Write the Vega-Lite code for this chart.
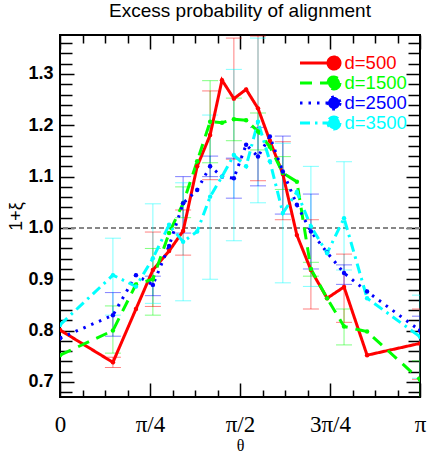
{
  "$schema": "https://vega.github.io/schema/vega-lite/v6.json",
  "autosize": {"type": "none"},
  "width": 360,
  "height": 362,
  "padding": {"left": 60, "top": 35, "right": 16, "bottom": 69},
  "background": "white",
  "title": {"text": "Excess probability of alignment", "font": "Liberation Sans", "fontSize": 19, "fontWeight": "normal", "color": "black", "anchor": "middle", "frame": "group", "baseline": "bottom", "offset": 17, "dy": 23},
  "config": {
    "view": {"stroke": "black", "strokeWidth": 2},
    "axis": {"domain": false, "grid": false, "tickColor": "black", "tickWidth": 1.5, "labelColor": "black", "titleColor": "black"}
  },
  "datasets": {
    "pts": [
      {"series":"d=500","theta":0,"xi":0.801},
      {"series":"d=500","theta":0.147,"xi":0.738,"lo":0.728,"hi":0.748},
      {"series":"d=500","theta":0.211,"xi":0.842},
      {"series":"d=500","theta":0.258,"xi":0.918,"lo":0.847,"hi":0.992},
      {"series":"d=500","theta":0.303,"xi":0.955},
      {"series":"d=500","theta":0.342,"xi":0.994,"lo":0.947,"hi":1.035},
      {"series":"d=500","theta":0.381,"xi":1.12},
      {"series":"d=500","theta":0.417,"xi":1.181,"lo":1.094,"hi":1.267},
      {"series":"d=500","theta":0.45,"xi":1.288},
      {"series":"d=500","theta":0.483,"xi":1.252,"lo":1.134,"hi":1.37},
      {"series":"d=500","theta":0.517,"xi":1.27},
      {"series":"d=500","theta":0.55,"xi":1.233,"lo":1.092,"hi":1.374},
      {"series":"d=500","theta":0.583,"xi":1.17},
      {"series":"d=500","theta":0.619,"xi":1.105,"lo":1.016,"hi":1.168},
      {"series":"d=500","theta":0.658,"xi":0.986},
      {"series":"d=500","theta":0.697,"xi":0.918,"lo":0.842,"hi":1.016},
      {"series":"d=500","theta":0.742,"xi":0.863},
      {"series":"d=500","theta":0.789,"xi":0.885,"lo":0.816,"hi":0.949},
      {"series":"d=500","theta":0.853,"xi":0.752},
      {"series":"d=500","theta":1,"xi":0.775,"lo":0.705,"hi":0.842},

      {"series":"d=1500","theta":0,"xi":0.752},
      {"series":"d=1500","theta":0.147,"xi":0.80,"lo":0.756,"hi":0.848},
      {"series":"d=1500","theta":0.211,"xi":0.89},
      {"series":"d=1500","theta":0.258,"xi":0.90,"lo":0.83,"hi":0.96},
      {"series":"d=1500","theta":0.303,"xi":0.99},
      {"series":"d=1500","theta":0.342,"xi":1.048,"lo":1.02,"hi":1.08},
      {"series":"d=1500","theta":0.381,"xi":1.13},
      {"series":"d=1500","theta":0.417,"xi":1.207,"lo":1.127,"hi":1.287},
      {"series":"d=1500","theta":0.45,"xi":1.205},
      {"series":"d=1500","theta":0.483,"xi":1.212,"lo":1.17,"hi":1.253},
      {"series":"d=1500","theta":0.517,"xi":1.21},
      {"series":"d=1500","theta":0.55,"xi":1.188,"lo":1.152,"hi":1.224},
      {"series":"d=1500","theta":0.583,"xi":1.158},
      {"series":"d=1500","theta":0.619,"xi":1.107,"lo":1.075,"hi":1.139},
      {"series":"d=1500","theta":0.658,"xi":1.09},
      {"series":"d=1500","theta":0.697,"xi":0.92,"lo":0.906,"hi":0.933},
      {"series":"d=1500","theta":0.742,"xi":0.863},
      {"series":"d=1500","theta":0.789,"xi":0.808,"lo":0.772,"hi":0.842},
      {"series":"d=1500","theta":0.853,"xi":0.798},
      {"series":"d=1500","theta":1,"xi":0.704,"lo":0.667,"hi":0.741},

      {"series":"d=2500","theta":0,"xi":0.785},
      {"series":"d=2500","theta":0.147,"xi":0.83,"lo":0.789,"hi":0.874},
      {"series":"d=2500","theta":0.211,"xi":0.908},
      {"series":"d=2500","theta":0.258,"xi":0.889,"lo":0.868,"hi":0.906},
      {"series":"d=2500","theta":0.303,"xi":0.965},
      {"series":"d=2500","theta":0.342,"xi":1.048,"lo":0.99,"hi":1.10},
      {"series":"d=2500","theta":0.381,"xi":1.074},
      {"series":"d=2500","theta":0.417,"xi":1.12,"lo":1.10,"hi":1.14},
      {"series":"d=2500","theta":0.45,"xi":1.10},
      {"series":"d=2500","theta":0.483,"xi":1.097,"lo":1.058,"hi":1.136},
      {"series":"d=2500","theta":0.517,"xi":1.162},
      {"series":"d=2500","theta":0.55,"xi":1.139,"lo":1.082,"hi":1.196},
      {"series":"d=2500","theta":0.583,"xi":1.178},
      {"series":"d=2500","theta":0.619,"xi":1.11,"lo":1.027,"hi":1.179},
      {"series":"d=2500","theta":0.658,"xi":1.045},
      {"series":"d=2500","theta":0.697,"xi":0.993,"lo":0.92,"hi":1.066},
      {"series":"d=2500","theta":0.742,"xi":0.952},
      {"series":"d=2500","theta":0.789,"xi":0.912,"lo":0.89,"hi":0.928},
      {"series":"d=2500","theta":0.853,"xi":0.876},
      {"series":"d=2500","theta":1,"xi":0.80,"lo":0.773,"hi":0.828},

      {"series":"d=3500","theta":0,"xi":0.811},
      {"series":"d=3500","theta":0.147,"xi":0.908,"lo":0.83,"hi":0.98},
      {"series":"d=3500","theta":0.211,"xi":0.886},
      {"series":"d=3500","theta":0.258,"xi":0.941,"lo":0.853,"hi":1.047},
      {"series":"d=3500","theta":0.303,"xi":1.006},
      {"series":"d=3500","theta":0.342,"xi":0.973,"lo":0.858,"hi":1.088},
      {"series":"d=3500","theta":0.381,"xi":0.993},
      {"series":"d=3500","theta":0.417,"xi":1.061,"lo":0.90,"hi":1.22},
      {"series":"d=3500","theta":0.45,"xi":1.10},
      {"series":"d=3500","theta":0.483,"xi":1.142,"lo":0.975,"hi":1.309},
      {"series":"d=3500","theta":0.517,"xi":1.12},
      {"series":"d=3500","theta":0.55,"xi":1.207,"lo":1.049,"hi":1.37},
      {"series":"d=3500","theta":0.583,"xi":1.13},
      {"series":"d=3500","theta":0.619,"xi":1.029,"lo":0.893,"hi":1.165},
      {"series":"d=3500","theta":0.658,"xi":1.07},
      {"series":"d=3500","theta":0.697,"xi":1.003,"lo":0.886,"hi":1.12},
      {"series":"d=3500","theta":0.742,"xi":0.951},
      {"series":"d=3500","theta":0.789,"xi":1.019,"lo":0.918,"hi":1.129},
      {"series":"d=3500","theta":0.853,"xi":0.863},
      {"series":"d=3500","theta":1,"xi":0.788,"lo":0.707,"hi":0.869}
    ]
  },
  "data": {"name": "pts"},
  "resolve": {"axis": {"x": "independent", "y": "independent"}, "legend": {"color": "independent", "strokeDash": "independent"}},
  "layer": [
    {
      "mark": {"type": "rule", "color": "#888888", "strokeDash": [5, 3], "strokeWidth": 1},
      "encoding": {
        "y": {"datum": 1, "type": "quantitative", "scale": {"domain": [0.6705, 1.376], "nice": false, "zero": false}, "axis": null}
      }
    },
    {
      "transform": [{"filter": "isValid(datum.lo)"}],
      "mark": {"type": "rule", "strokeWidth": 1, "opacity": 0.5, "clip": true},
      "encoding": {
        "x": {"field": "theta", "type": "quantitative", "scale": {"domain": [0, 1], "nice": false, "zero": false},
              "axis": {"orient": "bottom", "values": [0, 0.25, 0.5, 0.75, 1], "tickSize": -14, "labelPadding": 30, "labelFont": "Liberation Serif", "labelFontSize": 23, "labelFlush": false, "labelOverlap": false,
                       "labelExpr": "datum.value == 0 ? '0' : datum.value == 0.25 ? 'π/4' : datum.value == 0.5 ? 'π/2' : datum.value == 0.75 ? '3π/4' : 'π'",
                       "title": "θ", "titleFont": "Liberation Serif", "titleFontSize": 16, "titleFontWeight": "normal", "titlePadding": 1}},
        "y": {"field": "lo", "type": "quantitative", "scale": {"domain": [0.6705, 1.376], "nice": false, "zero": false},
              "axis": {"orient": "left", "values": [0.7, 0.8, 0.9, 1.0, 1.1, 1.2, 1.3], "format": ".1f", "tickSize": -14, "labelPadding": 21, "labelFont": "Liberation Sans", "labelFontSize": 18, "labelFontWeight": "bold",
                       "title": "1+ξ", "titleFont": "Liberation Sans", "titleFontSize": 18, "titleFontWeight": "normal", "titlePadding": 2}},
        "y2": {"field": "hi"},
        "color": {"field": "series", "type": "nominal", "scale": {"domain": ["d=500", "d=1500", "d=2500", "d=3500"], "range": ["#ff0000", "#00ff00", "#0000ff", "#00ffff"]}, "legend": null}
      }
    },
    {
      "transform": [{"filter": "isValid(datum.lo)"}],
      "mark": {"type": "tick", "orient": "horizontal", "size": 16, "thickness": 1, "opacity": 0.5, "clip": true},
      "encoding": {
        "x": {"field": "theta", "type": "quantitative", "axis": {"orient": "top", "values": [0, 0.25, 0.5, 0.75, 1], "tickSize": -14, "labels": false, "title": null}},
        "y": {"field": "lo", "type": "quantitative", "axis": {"orient": "right", "values": [0.7, 0.8, 0.9, 1.0, 1.1, 1.2, 1.3], "tickSize": -14, "labels": false, "title": null}},
        "color": {"field": "series", "type": "nominal", "legend": null}
      }
    },
    {
      "transform": [{"filter": "isValid(datum.lo)"}],
      "mark": {"type": "tick", "orient": "horizontal", "size": 16, "thickness": 1, "opacity": 0.5, "clip": true},
      "encoding": {
        "x": {"field": "theta", "type": "quantitative", "axis": {"orient": "bottom", "values": [0.0625, 0.125, 0.1875, 0.3125, 0.375, 0.4375, 0.5625, 0.625, 0.6875, 0.8125, 0.875, 0.9375], "tickSize": -7, "labels": false, "title": null}},
        "y": {"field": "hi", "type": "quantitative", "axis": {"orient": "left", "values": [0.68, 0.72, 0.74, 0.76, 0.78, 0.82, 0.84, 0.86, 0.88, 0.92, 0.94, 0.96, 0.98, 1.02, 1.04, 1.06, 1.08, 1.12, 1.14, 1.16, 1.18, 1.22, 1.24, 1.26, 1.28, 1.32, 1.34, 1.36], "tickSize": -12, "labels": false, "title": null}},
        "color": {"field": "series", "type": "nominal", "legend": null}
      }
    },
    {
      "mark": {"type": "line", "strokeWidth": 3, "clip": true},
      "encoding": {
        "x": {"field": "theta", "type": "quantitative", "axis": {"orient": "top", "values": [0.0625, 0.125, 0.1875, 0.3125, 0.375, 0.4375, 0.5625, 0.625, 0.6875, 0.8125, 0.875, 0.9375], "tickSize": -8, "labels": false, "title": null}},
        "y": {"field": "xi", "type": "quantitative", "axis": {"orient": "right", "values": [0.68, 0.72, 0.74, 0.76, 0.78, 0.82, 0.84, 0.86, 0.88, 0.92, 0.94, 0.96, 0.98, 1.02, 1.04, 1.06, 1.08, 1.12, 1.14, 1.16, 1.18, 1.22, 1.24, 1.26, 1.28, 1.32, 1.34, 1.36], "tickSize": -12, "labels": false, "title": null}},
        "color": {"field": "series", "type": "nominal",
                  "legend": {"orient": "none", "legendX": 238.5, "legendY": 18, "title": null, "padding": 0, "rowPadding": 0, "clipHeight": 20,
                             "symbolType": "M-1,0L0.42,0M1,0A0.3,0.3,0,1,1,0.4,0A0.3,0.3,0,1,1,1,0Z", "symbolSize": 1600, "symbolStrokeWidth": 3, "symbolOpacity": 1,
                             "labelFont": "Liberation Sans", "labelFontSize": 18.5, "labelOffset": 3, "labelLimit": 200,
                             "encode": {"labels": {"update": {"fill": {"scale": "color", "field": "value"}}}, "symbols": {"update": {"fill": {"scale": "color", "field": "value"}}}}}},
        "strokeDash": {"field": "series", "type": "nominal", "scale": {"domain": ["d=500", "d=1500", "d=2500", "d=3500"], "range": [[1, 0], [12, 8], [2.5, 6], [10, 5, 2.5, 5]]}}
      }
    },
    {
      "mark": {"type": "circle", "size": 20, "opacity": 1, "clip": true},
      "encoding": {
        "x": {"field": "theta", "type": "quantitative", "axis": null},
        "y": {"field": "xi", "type": "quantitative", "axis": null},
        "color": {"field": "series", "type": "nominal", "legend": null}
      }
    }
  ]
}
